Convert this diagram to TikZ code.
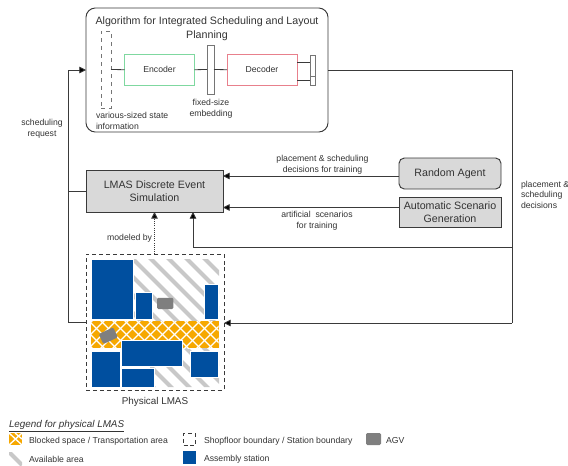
\documentclass[tikz,border=0pt]{standalone}
\usepackage{fontspec}
\setmainfont{Liberation Sans}
\usetikzlibrary{arrows.meta,calc}
\definecolor{txt}{HTML}{333333}
\definecolor{ln}{HTML}{3A3A3A}
\definecolor{boxfill}{HTML}{D9D9D9}
\definecolor{stationblue}{HTML}{004F9F}
\definecolor{blocked}{HTML}{F6A800}
\definecolor{agvgray}{HTML}{7F7F7F}
\definecolor{hatchgray}{HTML}{C8C8C8}
\definecolor{encgreen}{HTML}{7FD8A0}
\definecolor{decred}{HTML}{E8808C}
\tikzset{
  x=0.75pt,y=-0.75pt,
  every node/.style={inner sep=0pt,outer sep=0pt,text=txt},
  wire/.style={draw=ln,line width=0.6pt},
  arrow/.style={wire,-{Triangle[length=5pt,width=5pt,fill=black]}},
  small/.style={font=\fontsize{6.5}{7.9}\selectfont,align=center},
  leg/.style={font=\fontsize{6.5}{7.9}\selectfont,anchor=west},
  big/.style={font=\fontsize{8}{10.2}\selectfont,align=center},
  graybox/.style={draw=ln,fill=boxfill,line width=0.7pt,big},
  layer/.style={draw=ln!70,fill=white,line width=0.5pt},
  station/.style={fill=stationblue,draw=white,line width=0.4pt},
  agv/.style={fill=agvgray,draw=none,rounded corners=1pt},
  boundary/.style={draw=ln,line width=0.7pt,dash pattern=on 3pt off 2.2pt},
}
\newcommand{\hatchlines}{%
  \foreach \k in {-16,-15,...,40}{
    \draw[hatchgray,line width=3pt] ({\k*18},0) -- ({\k*18+480},480);
  }}
\newcommand{\latticelines}{%
  \foreach \k in {0,...,60}{
    \draw[white,line width=0.9pt] ({\k*12+5},300) -- ({\k*12+5-80},380);
    \draw[white,line width=0.9pt] ({\k*12-400},300) -- ({\k*12-320},380);
  }}
\begin{document}
\begin{tikzpicture}
\useasboundingbox (0,0) rectangle (568,465);
% algorithm box
\node[draw=ln,line width=0.7pt,rounded corners=7pt,minimum width=242*.75pt,minimum height=124*.75pt] (alg) at (207,70) {};
\node[big] (algt) at (207,29) {Algorithm for Integrated Scheduling and Layout\\Planning};
\node[draw=ln!70,dashed,line width=0.5pt,minimum width=10*.75pt,minimum height=77*.75pt] (state) at (106,69.5) {};
\node[draw=encgreen,line width=0.6pt,minimum width=70*.75pt,minimum height=30.5*.75pt,font=\fontsize{6.5}{8}\selectfont] (enc) at (159.5,69.7) {Encoder};
\node[layer,minimum width=7*.75pt,minimum height=49*.75pt] (emb) at (210.5,69.5) {};
\node[draw=decred,line width=0.6pt,minimum width=70*.75pt,minimum height=30.5*.75pt,font=\fontsize{6.5}{8}\selectfont] (dec) at (262,69.7) {Decoder};
\node[layer,minimum width=5.5*.75pt,minimum height=20.5*.75pt] (outa) at (313,66) {};
\node[layer,minimum width=5.5*.75pt,minimum height=9.5*.75pt] (outb) at (313,80.8) {};
\coordinate (oa) at (297,62);
\coordinate (ob) at (297,80);
\draw[wire] (state.east) -- (enc.west);
\draw[wire] (enc.east) -- (emb.west);
\draw[wire] (emb.east) -- (dec.west);
\draw[wire] (oa) -- (oa -| outa.west);
\draw[wire] (ob) -- (ob -| outb.west);
\node[small] (emblab) at (211,108.5) {fixed-size\\embedding};
\node[small,align=left,anchor=north west] (statelab) at (96,112.5) {various-sized state\\information};
% main boxes
\node[graybox,minimum width=137*.75pt,minimum height=42*.75pt] (des) at (154.5,191) {LMAS Discrete Event\\Simulation};
\node[graybox,rounded corners=4pt,minimum width=102*.75pt,minimum height=31*.75pt] (rnd) at (450,173.5) {\raisebox{-1pt}{Random Agent}};
\node[graybox,minimum width=102*.75pt,minimum height=30*.75pt] (asg) at (450,212) {Automatic Scenario\\Generation};
\coordinate (ra) at (399,176);
\coordinate (sa) at (399,207.5);
\draw[wire] (rnd.west |- ra) -- (ra);
\draw[arrow] (ra) -- (ra -| des.east);
\draw[arrow] (sa) -- (sa -| des.east);
\node[small] (l1) at (322.5,165) {placement \& scheduling\\decisions for training};
\node[small] (l2) at (317,220.5) {artificial\; scenarios\\for training};
% physical LMAS
\begin{scope}
  \clip (133,259) rectangle (219,321) (150,340) rectangle (219,387);
  \hatchlines
\end{scope}
\node[boundary,minimum width=138*.75pt,minimum height=136*.75pt] (phys) at (155,322) {};
\fill[blocked] (91,321) rectangle (218.7,348.3);
\begin{scope}
  \clip (91,321) rectangle (218.7,348.3);
  \latticelines
\end{scope}
\node[station,minimum width=42.3*.75pt,minimum height=60*.75pt] (s1) at (112.2,289) {};
\node[station,minimum width=17*.75pt,minimum height=26.3*.75pt] (s2) at (144.2,305.9) {};
\node[station,minimum width=14.4*.75pt,minimum height=34.7*.75pt] (s3) at (211.5,301.7) {};
\node[station,minimum width=29.3*.75pt,minimum height=36*.75pt] (s4) at (105.7,369) {};
\node[station,minimum width=61*.75pt,minimum height=26.3*.75pt] (s5) at (152.2,353.2) {};
\node[station,minimum width=32.3*.75pt,minimum height=18.7*.75pt] (s6) at (137.9,377.7) {};
\node[station,minimum width=28.7*.75pt,minimum height=26.3*.75pt] (s7) at (204.4,364.2) {};
\node[agv,minimum width=16.3*.75pt,minimum height=11.3*.75pt] (agv1) at (165.2,303.4) {};
\node[agv,rotate=25,minimum width=16*.75pt,minimum height=11*.75pt] (agv2) at (108.3,335.7) {};
\node[font=\fontsize{7.4}{9}\selectfont] (physlab) at (155,402) {Physical LMAS};
\node[small,anchor=east] (modlab) at (152,238) {modeled by};
\draw[arrow,densely dotted,line width=0.7pt] (phys.north -| des.south) -- (des.south);
% feedback loops
\coordinate (lx) at (68,70);
\draw[wire] (phys.west |- 0,322) -- (68,322) -- (lx);
\draw[arrow] (lx) -- (alg.west);
\draw[wire] (des.west) -- (des.west -| lx);
\coordinate (rx) at (512,70);
\draw[wire] (alg.east) -- (rx) -- (512,323);
\draw[arrow] (512,323) -- (phys.east |- 0,323);
\coordinate (rb) at (512,247);
\coordinate (ru) at (193,247);
\draw[wire] (rb) -- (ru);
\draw[arrow] (ru) -- (ru |- des.south);
\node[small] (sreq) at (42,128.5) {scheduling\\request};
\node[small,align=left,anchor=west] (pl) at (521,194.5) {placement \&\\scheduling\\decisions};
% legend
\node[font=\fontsize{7.4}{9}\selectfont\itshape,anchor=west] (legt) at (9,426.5) {$\underline{\hbox{Legend for physical LMAS}}$};
\fill[blocked] (9,433) rectangle (22,445);
\begin{scope}
  \clip (9,433) rectangle (22,445);
  \draw[white,line width=1pt] (9,433) -- (22,445) (9,445) -- (22,433) (15,433) -- (22,439);
\end{scope}
\node[leg] (la) at (29,441) {Blocked space / Transportation area};
\begin{scope}
  \clip (9,452) rectangle (22,465);
  \draw[hatchgray,line width=3pt] (9,452) -- (22,465);
\end{scope}
\node[leg] (lb) at (29,459) {Available area};
\node[boundary,minimum width=12*.75pt,minimum height=12*.75pt] (lc) at (189.5,439.5) {};
\node[leg] (ld) at (204,441) {Shopfloor boundary / Station boundary};
\node[station,draw=none,minimum width=13*.75pt,minimum height=13*.75pt] (le) at (189.5,457.5) {};
\node[leg] (lf) at (204,459) {Assembly station};
\node[agv,minimum width=15*.75pt,minimum height=12*.75pt] (lg) at (373.5,439) {};
\node[leg] (lh) at (386,441) {AGV};
\end{tikzpicture}
\end{document}
